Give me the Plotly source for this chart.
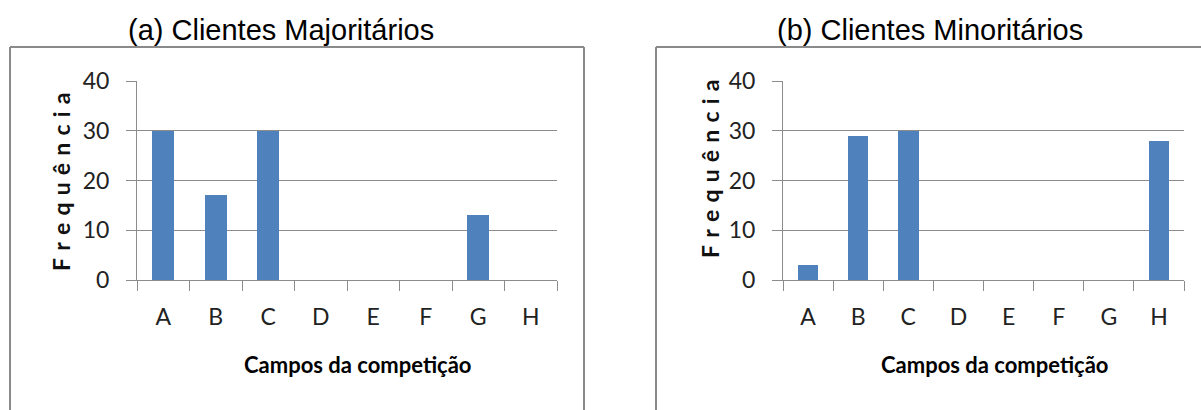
import plotly.graph_objects as go

categories = ["A", "B", "C", "D", "E", "F", "G", "H"]
majoritarios = [30, 17, 30, 0, 0, 0, 13, 0]
minoritarios = [3, 29, 30, 0, 0, 0, 0, 28]
y_ticks = [0, 10, 20, 30, 40]
titles = ["(a) Clientes Majoritários", "(b) Clientes Minoritários"]
x_title = "Campos da competição"
y_title = "Frequência"

W, H = 1201, 410
BAR = "#4F81BD"
GRID = "#8C8C8C"
FRAME = "#8A8A8A"
TICKFONT = dict(family="Lato, Open Sans, sans-serif", size=23, color="#222")

fig = go.Figure()
fig.add_trace(go.Bar(x=categories, y=majoritarios, marker=dict(color=BAR, line=dict(width=0)),
                     width=0.42, xaxis="x", yaxis="y", showlegend=False))
fig.add_trace(go.Bar(x=categories, y=minoritarios, marker=dict(color=BAR, line=dict(width=0)),
                     width=0.41, xaxis="x2", yaxis="y2", showlegend=False))

def px(x):
    return x / W

def py(y):
    return (H - y) / H

ydom = [py(280), py(81)]
xcommon = dict(type="category", showgrid=False, showline=True, linecolor=GRID, linewidth=1,
               ticks="outside", tickson="boundaries", ticklen=10, tickcolor=GRID,
               tickfont=TICKFONT, zeroline=False, fixedrange=True, ticklabelstandoff=16,
               automargin=False)
ycommon = dict(range=[0, 40], tickvals=y_ticks, showgrid=True, gridcolor=GRID, gridwidth=1,
               showline=True, linecolor=GRID, linewidth=1, ticks="outside", ticklen=10,
               tickcolor=GRID, tickfont=TICKFONT, zeroline=False, fixedrange=True,
               ticklabelstandoff=12, automargin=False)

fig.update_layout(
    width=W, height=H, margin=dict(l=0, r=0, t=0, b=0, autoexpand=False),
    paper_bgcolor="white", plot_bgcolor="white", bargap=0,
    xaxis=dict(domain=[px(137), px(557)], anchor="y", **xcommon),
    yaxis=dict(domain=ydom, anchor="x", **ycommon),
    xaxis2=dict(domain=[px(783), px(1184)], anchor="y2", **xcommon),
    yaxis2=dict(domain=ydom, anchor="x2", **ycommon),
)

shapes = []
for (l, r) in [(10, 584), (656, 1210)]:
    shapes.append(dict(type="line", xref="paper", yref="paper", x0=px(l), x1=px(r), y0=py(47), y1=py(47),
                       line=dict(color=FRAME, width=2)))
    shapes.append(dict(type="line", xref="paper", yref="paper", x0=px(l), x1=px(l), y0=py(47), y1=py(420),
                       line=dict(color=FRAME, width=2)))
    shapes.append(dict(type="line", xref="paper", yref="paper", x0=px(r), x1=px(r), y0=py(47), y1=py(420),
                       line=dict(color=FRAME, width=2)))
fig.update_layout(shapes=shapes)

spaced_y_title = "\u2005\u200a".join(y_title)

ann = []
for title, cx in zip(titles, [281, 930]):
    ann.append(dict(text=title, xref="paper", yref="paper", x=px(cx), y=py(30), showarrow=False,
                    xanchor="center", yanchor="middle",
                    font=dict(family="Liberation Sans, Arial", size=29, color="#000")))
for cx in [357, 994]:
    ann.append(dict(text="<b>" + x_title + "</b>", xref="paper", yref="paper", x=px(cx), y=py(364),
                    showarrow=False, xanchor="center", yanchor="middle",
                    font=dict(family="Lato, sans-serif", size=22, color="#000")))
for cx, cy in [(61, 182), (710, 169)]:
    ann.append(dict(text="<b>" + spaced_y_title + "</b>", xref="paper", yref="paper", x=px(cx), y=py(cy),
                    showarrow=False, textangle=-90, xanchor="center", yanchor="middle",
                    font=dict(family="Lato, sans-serif", size=23, color="#111")))
fig.update_layout(annotations=ann)

fig.write_html("out.html", post_script="document.body.style.margin='0';",
               config={"displayModeBar": False})
